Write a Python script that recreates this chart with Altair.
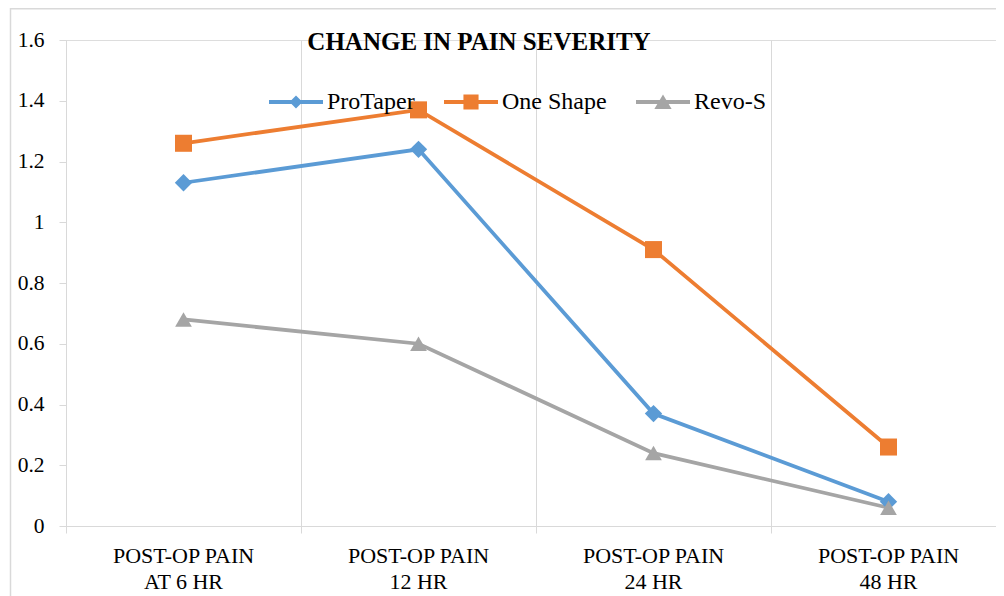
import altair as alt
import pandas as pd

# ---- data ----
CATEGORIES = ["POST-OP PAIN AT  6 HR", "POST-OP PAIN 12 HR", "POST-OP PAIN 24 HR", "POST-OP PAIN 48 HR"]
SERIES = ["ProTaper", "One Shape", "Revo-S"]
PROTAPER = [1.13, 1.24, 0.37, 0.08]
ONE_SHAPE = [1.26, 1.37, 0.91, 0.26]
REVO_S = [0.68, 0.60, 0.24, 0.06]
Y_TICKS = [0, 0.2, 0.4, 0.6, 0.8, 1.0, 1.2, 1.4, 1.6]
TITLE = "CHANGE IN PAIN SEVERITY"

COLORS = ["#5B9BD5", "#ED7D31", "#A5A5A5"]
SHAPES = ["diamond", "square", "triangle-up"]
SIZES = [300, 280, 300]
FONT = "Liberation Serif"
GRID = "#D9D9D9"

rows = []
for name, vals in zip(SERIES, [PROTAPER, ONE_SHAPE, REVO_S]):
    for cat, v in zip(CATEGORIES, vals):
        rows.append({"category": cat, "series": name, "value": v})
df = pd.DataFrame(rows)

# legend symbols: a line with the marker on top (custom paths)
LINE = "M-1,-0.07L1,-0.07L1,0.07L-1,0.07Z"
P_DIAMOND = LINE + "M0,-0.24L0.24,0L0,0.24L-0.24,0Z"
P_SQUARE = LINE + "M-0.28,-0.28L0.28,-0.28L0.28,0.28L-0.28,0.28Z"
P_TRI = LINE + "M0,-0.28L0.32,0.26L-0.32,0.26Z"
LEGEND_SHAPES = [P_DIAMOND, P_SQUARE, P_TRI]

LEG = alt.Legend(
    title=None, orient="none", legendX=203, legendY=35, direction="horizontal",
    symbolSize=2916, labelFont=FONT, labelFontSize=24, labelColor="black",
    labelOffset=4, columnPadding=29, padding=0, symbolStrokeWidth=0,
    symbolOpacity=1,
)

x_enc = alt.X(
    "category:N", sort=CATEGORIES,
    scale=alt.Scale(type="band", paddingInner=0, paddingOuter=0, range=[0, 940]),
    axis=alt.Axis(
        title=None, labelAngle=0, grid=True, gridColor=GRID, gridWidth=1,
        bandPosition=0, ticks=True, tickColor=GRID, tickSize=7,
        domainColor=GRID, domainWidth=1,
        labelFont=FONT, labelFontSize=22, labelColor="black", labelPadding=12,
        labelLineHeight=26, labelBaseline="top",
        labelExpr="[substring(datum.value, 0, 12), substring(datum.value, 13)]",
    ),
)
y_enc = alt.Y(
    "value:Q",
    scale=alt.Scale(domain=[0, 1.6], nice=False),
    axis=alt.Axis(
        title=None, values=Y_TICKS, format="~g", grid=False,
        domainColor=GRID, domainWidth=1, tickColor=GRID, tickSize=7,
        labelFont=FONT, labelFontSize=21.5, labelColor="black", labelPadding=15,
    ),
)
color_scale = alt.Scale(domain=SERIES, range=COLORS)

base = alt.Chart(df)
lines = base.mark_line(strokeWidth=3.75).encode(
    x=x_enc, y=y_enc,
    color=alt.Color("series:N", scale=color_scale, legend=None),
    detail="series:N",
)
points = base.mark_point(filled=True, opacity=1).encode(
    x=x_enc, y=y_enc,
    color=alt.Color("series:N", scale=color_scale, legend=None),
    shape=alt.Shape("series:N", scale=alt.Scale(domain=SERIES, range=SHAPES), legend=None),
    size=alt.Size("series:N", scale=alt.Scale(domain=SERIES, range=SIZES), legend=None),
)
legend_layer = base.mark_point(filled=True, opacity=0, size=2916).encode(
    x=x_enc, y=y_enc,
    color=alt.Color("series:N", scale=color_scale, legend=LEG),
    shape=alt.Shape("series:N", scale=alt.Scale(domain=SERIES, range=LEGEND_SHAPES), legend=LEG),
)

title_df = pd.DataFrame({"t": [TITLE]})
title = alt.Chart(title_df).mark_text(
    font=FONT, fontSize=25, fontWeight="bold", color="black",
    align="center", baseline="alphabetic",
).encode(x=alt.value(413), y=alt.value(10), text="t:N")

frame_left = alt.Chart(title_df).mark_rule(color=GRID, strokeWidth=1.5).encode(
    x=alt.value(-55.5), y=alt.value(-32), y2=alt.value(560)
)
frame_top = alt.Chart(title_df).mark_rule(color=GRID, strokeWidth=1.5).encode(
    x=alt.value(-55.5), x2=alt.value(960), y=alt.value(-31.2)
)

chart = alt.layer(frame_left, frame_top, lines, points, legend_layer, title).resolve_scale(
    shape="independent", size="independent"
).resolve_legend(
    color="independent", shape="independent"
).properties(
    width=930, height=486,
    padding={"left": 58, "top": 32, "right": 0, "bottom": 72},
    autosize="none",
).configure_view(strokeWidth=0).configure(background="white")

chart.save("out.html", embed_options={"renderer": "svg", "actions": False})
